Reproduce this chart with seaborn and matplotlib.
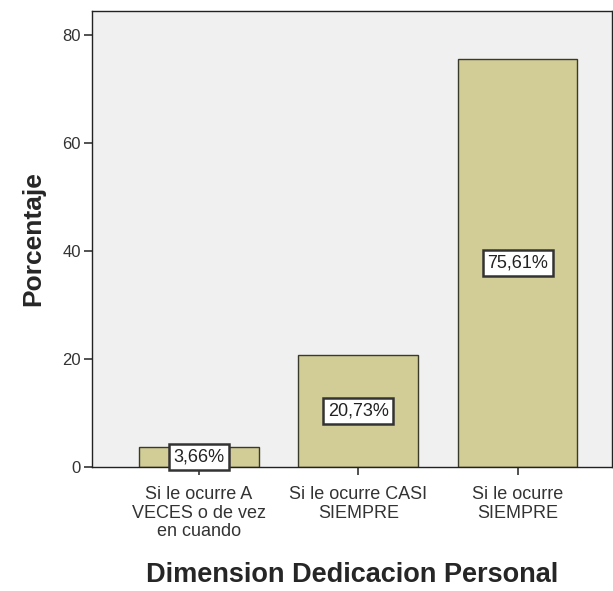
import matplotlib
matplotlib.use("Agg")
import matplotlib.pyplot as plt
import seaborn as sns
import pandas as pd

categorias = ["Si le ocurre A\nVECES o de vez\nen cuando",
              "Si le ocurre CASI\nSIEMPRE",
              "Si le ocurre\nSIEMPRE"]
porcentajes = [3.66, 20.73, 75.61]
etiquetas = ["3,66%", "20,73%", "75,61%"]

df = pd.DataFrame({"cat": categorias, "pct": porcentajes})

sns.set_style("white")
plt.rcParams["font.family"] = ["Liberation Sans", "DejaVu Sans"]

fig = plt.figure(figsize=(6.13, 5.91), dpi=100)
ax = fig.add_axes([0.150, 0.210, 0.848, 0.771])
ax.set_facecolor("#F0F0F0")

sns.barplot(data=df, x="cat", y="pct", color="#D2CC96", width=0.75,
            edgecolor="#3a3a2a", linewidth=1.0, saturation=1, ax=ax)

for i, (v, t) in enumerate(zip(porcentajes, etiquetas)):
    ax.text(i, v / 2, t, ha="center", va="center", fontsize=13, color="#222222",
            bbox=dict(boxstyle="square,pad=0.25", facecolor="white",
                      edgecolor="#333333", linewidth=1.8))

ax.set_xlim(-0.67, 2.59)
ax.set_ylim(0, 84.4)
ax.set_yticks([0, 20, 40, 60, 80])
ax.tick_params(axis="both", direction="out", length=6, width=1.2, colors="#333333",
               labelcolor="#333333", bottom=True, left=True)
ax.tick_params(axis="y", labelsize=12, pad=2)
ax.tick_params(axis="x", labelsize=13, pad=8)
for lbl in ax.get_xticklabels():
    lbl.set_linespacing(1.1)
for s in ax.spines.values():
    s.set_color("#222222")
    s.set_linewidth(1.0)

ax.set_ylabel("Porcentaje", fontsize=19, fontweight="bold", labelpad=12)
ax.set_xlabel("Dimension Dedicacion Personal", fontsize=19.5, fontweight="bold", labelpad=16)

fig.savefig("out.png", dpi=100)
